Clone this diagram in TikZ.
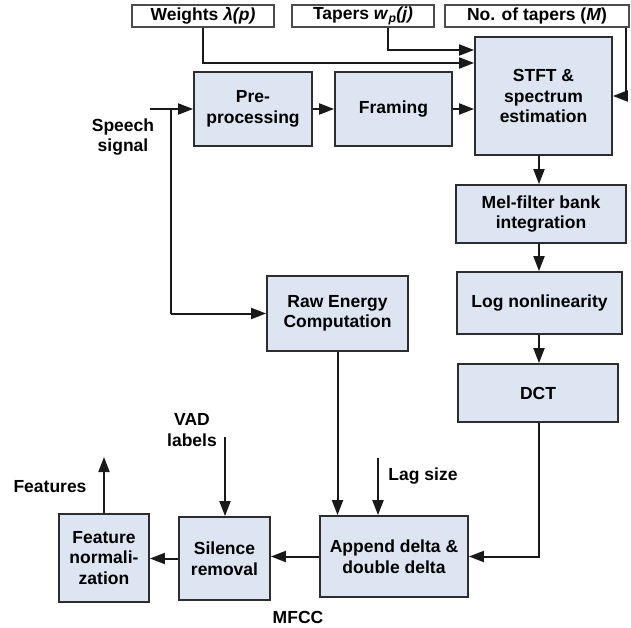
\documentclass[tikz,border=0pt]{standalone}
\usepackage{fontspec}
\setmainfont{Liberation Sans}
\usetikzlibrary{arrows.meta,calc}
\definecolor{boxfill}{RGB}{221,229,243}
\definecolor{boxline}{RGB}{45,45,45}
\begin{document}
\begin{tikzpicture}[x=1pt,y=-1pt,
  font=\fontsize{17.5}{20.5}\selectfont\bfseries,
  blk/.style={draw=boxline,fill=boxfill,line width=1.8pt,align=center,inner sep=0pt},
  param/.style={draw=black!70,line width=1.1pt,align=center,inner sep=0pt,minimum height=22pt},
  arr/.style={line width=2pt,draw=black!90,-{Triangle[length=15pt,width=11pt]}},
  lbl/.style={align=center,inner sep=0pt}]
\useasboundingbox (0,0) rectangle (631,628);
% parameter boxes
\node[param,minimum width=142pt] (wts) at (203,16) {Weights \textit{λ(p)}};
\node[param,minimum width=142pt] (tap) at (363,16) {Tapers \textit{w}\textsubscript{\textit{p}}\textit{(j)}};
\node[param,minimum width=184pt] (nta) at (537,16) {No. of tapers (\textit{M})};
% processing blocks
\node[blk,minimum width=137pt,minimum height=118pt] (stft) at (543.5,96) {STFT \&\\spectrum\\estimation};
\node[blk,minimum width=118pt,minimum height=74pt] (pre) at (253,109) {Pre-\\processing};
\node[blk,minimum width=117pt,minimum height=74pt] (frm) at (393.5,109) {Framing};
\node[blk,minimum width=170pt,minimum height=58pt] (mel) at (541,214) {Mel-filter bank\\integration};
\node[blk,minimum width=165pt,minimum height=62pt] (log) at (539.5,303) {Log nonlinearity};
\node[blk,minimum width=160pt,minimum height=58pt] (dct) at (538,393) {DCT};
\node[blk,minimum width=141pt,minimum height=75pt] (raw) at (337.5,313.5) {Raw Energy\\Computation};
\node[blk,minimum width=148pt,minimum height=81pt] (app) at (394,556.5) {Append delta \&\\double delta};
\node[blk,minimum width=91pt,minimum height=83pt] (sil) at (224.5,558.5) {Silence\\removal};
\node[blk,minimum width=90pt,minimum height=88pt] (fea) at (104,558) {Feature\\normali-\\zation};
% labels
\node[lbl] (lsp) at (123,137) {Speech\\signal};
\node[lbl] (lfe) at (50,487) {Features};
\node[lbl] (lvad) at (192,430) {VAD\\labels};
\node[lbl] (llag) at (423,476) {Lag size};
\node[lbl] (lmf) at (298,617) {MFCC};
% coordinates
\coordinate (sp) at (150,109);
\coordinate (br) at (171,109);
\coordinate (cx) at (539,0);
\coordinate (lag) at (378,458);
\coordinate (vad) at (225,437);
\coordinate (out) at (104,457);
% connectors
\draw[arr] (wts.south) |- ([yshift=33pt]stft.west);
\draw[arr] ([xshift=25pt]tap.south) |- ([yshift=46pt]stft.west);
\draw[arr] ([xshift=89pt]nta.south) |- (stft.east);
\draw[arr] (sp) -- (pre.west);
\draw[line width=2pt,draw=black!90] (br) -- (br |- raw.west);
\draw[arr] (br |- raw.west) -- (raw.west);
\draw[arr] (pre.east) -- (frm.west);
\draw[arr] (frm.east) -- (frm.east -| stft.west);
\draw[arr] (stft.south -| cx) -- (mel.north -| cx);
\draw[arr] (mel.south -| cx) -- (log.north -| cx);
\draw[arr] (log.south -| cx) -- (dct.north -| cx);
\draw[arr] (dct.south -| cx) |- (app.east);
\draw[arr] (raw.south) -- (raw.south |- app.north);
\draw[arr] (lag) -- (lag |- app.north);
\draw[arr] (vad) -- (vad |- sil.north);
\draw[arr] (app.west) -- (app.west -| sil.east);
\draw[arr] (sil.west) -- (sil.west -| fea.east);
\draw[arr] (fea.north) -- (out);
\end{tikzpicture}
\end{document}
